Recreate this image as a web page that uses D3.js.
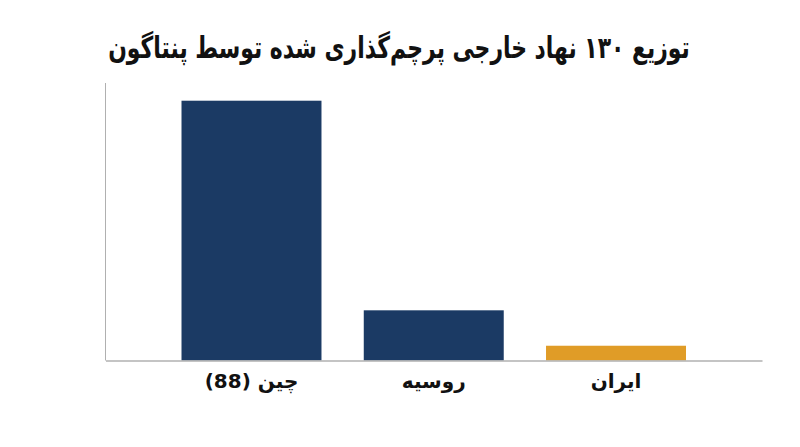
<!DOCTYPE html>
<html>
<head>
<meta charset="utf-8">
<script src="https://cdn.jsdelivr.net/npm/d3@7"></script>
<style>
  body { margin: 0; background: #fff; }
  text { font-family: "DejaVu Sans", sans-serif; font-weight: bold; }
</style>
</head>
<body>
<div id="chart"></div>
<script>
const width = 800;
const height = 447;

// data
const categories = ["چین (88)", "روسیه", "ایران"];
const values = [88, 17, 5];
const colors = ["#1b3a64", "#1b3a64", "#e09c27"];
const title = "توزیع ۱۳۰ نهاد خارجی پرچم‌گذاری شده توسط پنتاگون";

const margin = { top: 83, left: 105.5, right: 38, bottom: 86.5 };

let svg = d3.select("#chart").append("svg").attr("width", width).attr("height", height);

let x = d3.scaleBand().domain(categories).range([margin.left, width - margin.right]).paddingInner(0.232).paddingOuter(0.417);
let y = d3.scaleLinear().domain([0, 94]).range([height - margin.bottom, margin.top]);

// title, squeezed horizontally to the reference width
let titleG = svg.append("g");
let titleText = titleG.append("text").attr("x", 0).attr("y", 0).attr("text-anchor", "middle").attr("direction", "rtl")
  .style("font-size", "30px").attr("fill", "#111").text(title);
const titleW = titleText.node().getComputedTextLength();
titleG.attr("transform", `translate(399,58) scale(${582 / titleW},1)`);

// bars
svg.selectAll(".bar").data(values).enter().append("rect")
  .attr("x", (d, i) => x(categories[i]))
  .attr("y", d => y(d))
  .attr("width", x.bandwidth())
  .attr("height", d => y(0) - y(d))
  .attr("fill", (d, i) => colors[i]);

// left axis line
svg.append("line").attr("x1", margin.left).attr("x2", margin.left).attr("y1", margin.top).attr("y2", y(0))
  .attr("stroke", "#b0b0b0").attr("stroke-width", 1);

// bottom axis
let xAxis = svg.append("g").attr("transform", `translate(0,${y(0)})`).call(d3.axisBottom(x).tickSize(0).tickPadding(13));
xAxis.select(".domain").attr("stroke", "#b0b0b0").attr("stroke-width", 1.5);
xAxis.selectAll("text").style("font-size", "20px").attr("fill", "#111").attr("direction", "rtl").style("font-family", "\"DejaVu Sans\", sans-serif").style("font-weight", "bold");
</script>
</body>
</html>
